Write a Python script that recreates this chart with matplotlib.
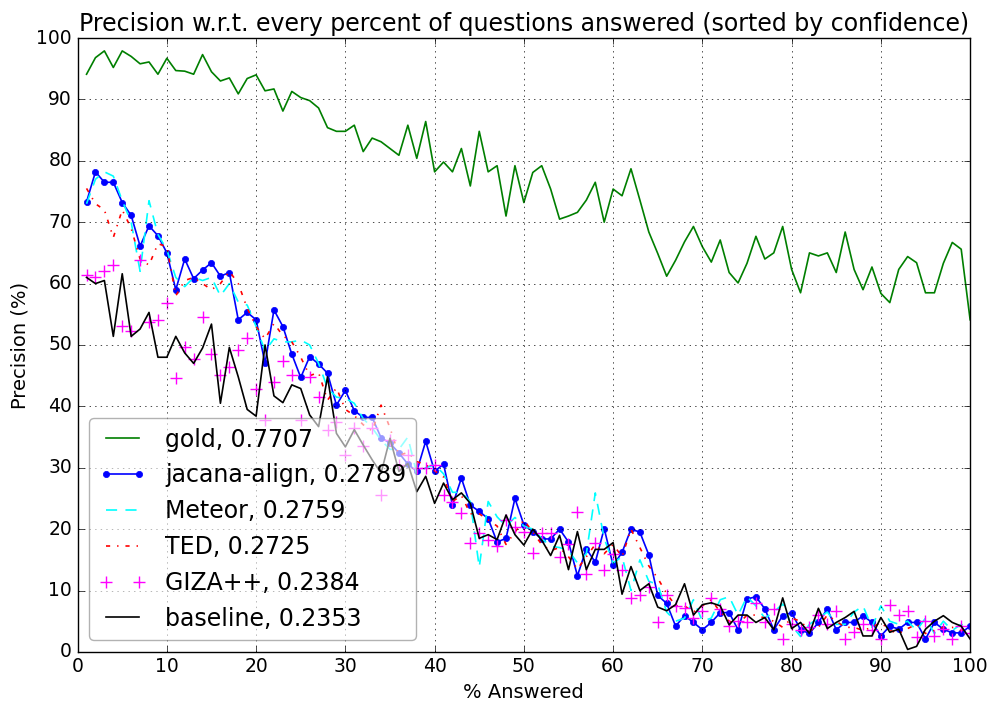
import numpy as np
import matplotlib
matplotlib.use("Agg")
import matplotlib.pyplot as plt

plt.style.use("classic")

answered = np.arange(1, 101)

gold = [94.1, 96.8, 97.9, 95.2, 97.9, 97.0, 95.8, 96.1, 94.1, 96.7,
        94.7, 94.6, 94.1, 97.3, 94.5, 93.0, 93.5, 90.9, 93.4, 94.0,
        91.4, 91.7, 88.1, 91.3, 90.3, 89.8, 88.6, 85.4, 84.8, 84.8,
        85.8, 81.5, 83.7, 83.1, 82.0, 80.9, 85.8, 80.4, 86.4, 78.2,
        79.8, 78.2, 82.0, 75.9, 84.8, 78.2, 79.2, 71.0, 79.2, 73.2,
        78.1, 79.2, 75.4, 70.5, 71.0, 71.6, 73.6, 76.5, 70.0, 75.4,
        74.3, 78.7, 73.6, 68.4, 64.9, 61.2, 63.8, 66.8, 69.3, 66.0,
        63.5, 67.1, 61.8, 60.1, 63.3, 67.7, 64.0, 65.0, 69.3, 62.3,
        58.5, 65.0, 64.5, 65.0, 61.8, 68.4, 62.3, 59.0, 62.7, 58.4,
        56.9, 62.3, 64.4, 63.4, 58.5, 58.5, 63.3, 66.7, 65.6, 54.1]

jacana = [73.3, 78.2, 76.5, 76.5, 73.2, 71.1, 66.1, 69.4, 67.8, 65.0,
          59.0, 64.0, 60.8, 62.2, 63.4, 61.2, 61.8, 54.1, 55.3, 54.1,
          47.0, 55.7, 53.0, 48.5, 44.7, 48.1, 46.9, 45.4, 40.2, 42.6,
          39.3, 38.2, 38.2, 34.9, 34.0, 32.4, 30.6, 29.4, 34.3, 29.4,
          30.6, 23.9, 28.3, 23.9, 22.9, 21.7, 17.9, 18.5, 25.0, 20.7,
          19.6, 18.4, 18.4, 20.0, 17.9, 12.4, 16.8, 14.6, 20.1, 14.1,
          16.2, 20.0, 19.5, 15.8, 9.2, 7.9, 4.2, 5.9, 4.8, 3.6,
          4.8, 6.4, 6.4, 3.6, 8.6, 9.0, 7.0, 3.6, 5.9, 6.4,
          3.6, 3.0, 4.8, 7.0, 3.6, 4.8, 4.8, 5.9, 4.8, 2.6,
          4.2, 3.7, 4.8, 4.8, 2.1, 4.8, 3.7, 3.1, 3.1, 4.2]

meteor = [73.0, 77.0, 78.2, 77.5, 73.5, 70.0, 62.0, 73.5, 68.0, 65.5,
          61.0, 59.5, 61.0, 60.5, 61.0, 58.0, 60.0, 57.0, 56.5, 53.0,
          49.0, 51.0, 50.5, 50.5, 50.8, 50.0, 47.0, 43.0, 41.5, 41.3,
          40.5, 38.0, 36.5, 34.5, 33.0, 33.0, 35.0, 29.0, 30.0, 30.5,
          29.0, 26.0, 26.0, 24.5, 13.8, 24.5, 22.0, 20.5, 21.9, 20.5,
          20.0, 18.5, 17.2, 17.0, 16.5, 14.5, 16.0, 25.9, 18.5, 14.5,
          15.5, 10.0, 15.0, 11.5, 11.0, 6.5, 5.0, 5.5, 8.5, 5.0,
          5.5, 8.5, 9.0, 6.0, 9.0, 7.5, 5.5, 6.5, 7.8, 4.3,
          2.5, 4.5, 5.5, 6.5, 4.5, 4.5, 6.5, 7.5, 4.0, 7.5,
          5.0, 4.5, 5.0, 3.5, 5.5, 3.0, 5.0, 3.5, 4.5, 3.8]

ted = [75.5, 73.0, 72.0, 67.5, 72.0, 69.0, 64.0, 63.0, 66.5, 66.0,
       58.0, 60.5, 61.0, 60.0, 59.0, 60.0, 62.0, 60.0, 56.0, 53.0,
       51.0, 53.5, 51.5, 50.5, 48.0, 45.0, 45.5, 41.0, 43.0, 39.5,
       38.5, 37.0, 36.0, 40.2, 36.5, 32.0, 32.5, 31.0, 30.5, 29.5,
       28.5, 24.5, 25.5, 22.5, 22.5, 21.5, 20.5, 17.5, 19.5, 21.5,
       19.5, 17.5, 16.5, 17.0, 15.5, 13.5, 15.5, 17.5, 16.0, 17.5,
       15.5, 20.0, 17.0, 14.0, 12.0, 9.5, 7.5, 7.5, 6.5, 7.5,
       8.5, 6.5, 5.0, 4.5, 6.0, 6.0, 5.5, 5.0, 4.0, 5.5,
       5.0, 3.5, 4.0, 6.0, 5.0, 4.0, 4.0, 3.5, 4.0, 4.8,
       3.5, 3.0, 3.8, 4.5, 3.0, 3.5, 4.0, 4.0, 3.5, 4.0]

giza = [61.4, 61.0, 62.1, 63.0, 53.1, 52.2, 63.8, 53.7, 54.1, 56.9,
        44.6, 49.7, 47.7, 54.6, 48.5, 45.1, 46.4, 49.1, 51.2, 42.9,
        37.8, 44.0, 47.4, 45.1, 37.8, 44.7, 41.5, 36.2, 37.5, 32.1,
        36.4, 33.5, 36.5, 25.6, 34.5, 30.5, 32.1, 29.9, 29.9, 30.5,
        25.6, 24.5, 22.7, 17.7, 19.3, 18.2, 17.2, 21.5, 20.4, 19.5,
        16.1, 19.4, 19.4, 15.5, 17.5, 22.8, 12.7, 17.7, 13.3, 16.0,
        13.4, 8.7, 9.3, 10.6, 4.8, 9.3, 7.4, 7.1, 5.5, 6.6,
        8.7, 7.0, 4.2, 5.1, 4.8, 7.9, 4.8, 7.0, 2.1, 4.5,
        3.6, 4.0, 6.0, 4.5, 6.6, 2.1, 3.2, 4.5, 3.5, 2.1,
        7.7, 6.0, 6.6, 2.5, 5.0, 2.6, 3.7, 2.1, 4.2, 3.0]

baseline = [61.0, 60.0, 60.5, 51.4, 61.6, 51.4, 52.6, 55.3, 48.0, 48.0,
            51.4, 48.7, 47.0, 49.5, 53.4, 40.5, 49.6, 44.8, 39.5, 38.4,
            50.0, 41.7, 40.6, 43.5, 42.9, 38.6, 36.7, 44.8, 35.6, 33.4,
            36.2, 33.7, 31.3, 29.1, 34.8, 29.4, 30.7, 26.1, 28.6, 24.2,
            27.5, 24.8, 25.9, 24.2, 18.5, 19.1, 18.3, 22.3, 19.1, 17.4,
            20.0, 18.2, 15.7, 19.0, 13.4, 19.6, 13.4, 16.7, 16.7, 17.8,
            9.4, 13.9, 10.0, 11.1, 7.3, 6.7, 7.7, 11.1, 6.0, 7.7,
            8.0, 7.5, 4.4, 6.0, 6.0, 4.8, 5.6, 3.6, 8.8, 3.8,
            4.8, 3.0, 7.1, 3.8, 4.8, 5.6, 6.6, 2.6, 2.6, 5.6,
            3.2, 3.7, 0.4, 0.9, 3.7, 5.0, 5.9, 4.8, 4.2, 2.1]

labels = ["gold, 0.7707", "jacana-align, 0.2789", "Meteor, 0.2759",
          "TED, 0.2725", "GIZA++, 0.2384", "baseline, 0.2353"]

fig = plt.figure(figsize=(9.95, 7.04), dpi=100, facecolor="white")
ax = fig.add_axes([0.078, 0.074, 0.897, 0.872])

ax.plot(answered, gold, color="#007f00", ls="-", lw=1.2, label=labels[0])
ax.plot(answered, jacana, color="#0000ff", ls="-", marker="o", ms=4.5, mec="#0000ff",
        lw=1.2, label=labels[1])
ax.plot(answered, meteor, color="#00ffff", ls="--", dashes=(8, 6), lw=1.2, label=labels[2])
ax.plot(answered, ted, color="#ff0000", ls="-.", lw=1.2, label=labels[3])
ax.plot(answered, giza, color="#ff00ff", ls="none", marker="+", ms=8, mew=1.0,
        label=labels[4])
ax.plot(answered, baseline, "k-", lw=1.2, label=labels[5])

ax.set_xlim(0, 100)
ax.set_ylim(0, 100)
ax.set_xticks(np.arange(0, 101, 10))
ax.set_yticks(np.arange(0, 101, 10))
ax.tick_params(labelsize=13.5)
ax.grid(True)
ax.set_title("Precision w.r.t. every percent of questions answered (sorted by confidence)",
             fontsize=17)
ax.set_xlabel("% Answered", fontsize=14)
ax.set_ylabel("Precision (%)", fontsize=14)

leg = ax.legend(loc="lower left", fontsize=17, numpoints=2, fancybox=True,
                framealpha=0.6)
leg.get_frame().set_edgecolor("0.5")

fig.savefig("out.png", dpi=100, facecolor="white")
